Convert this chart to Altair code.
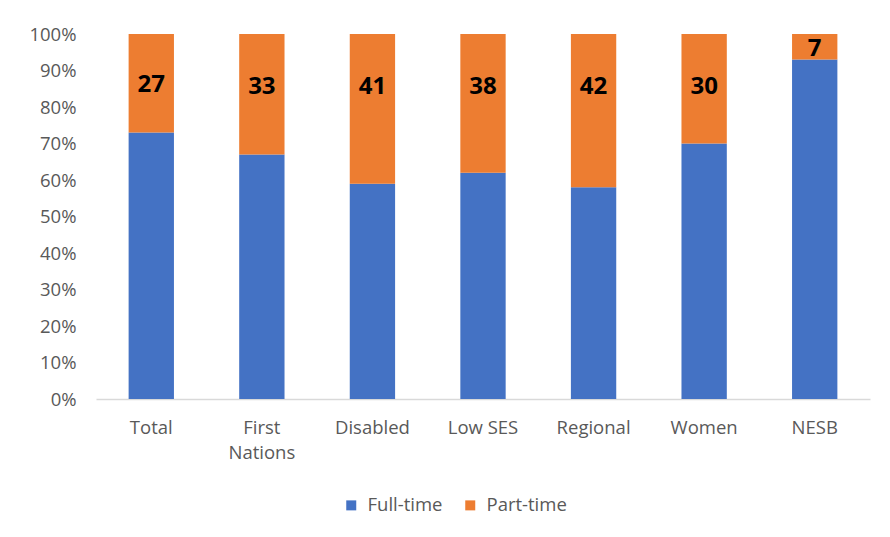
import altair as alt
import pandas as pd

categories = ["Total", "First Nations", "Disabled", "Low SES", "Regional", "Women", "NESB"]
part_time = [27, 33, 41, 38, 42, 30, 7]
full_time = [73, 67, 59, 62, 58, 70, 93]
series = ["Full-time", "Part-time"]
colors = ["#4472C4", "#ED7D31"]
y_ticks = [0, 0.1, 0.2, 0.3, 0.4, 0.5, 0.6, 0.7, 0.8, 0.9, 1.0]

rows = []
for c, f, p in zip(categories, full_time, part_time):
    rows.append({"cat": c, "series": "Full-time", "val": f / 100, "ord": 0})
    rows.append({"cat": c, "series": "Part-time", "val": p / 100, "ord": 1})
df = pd.DataFrame(rows)
lab_df = pd.DataFrame({"cat": categories, "pt": part_time})

FONT = "Open Sans"
FS = 18.5

x_axis = alt.Axis(labelAngle=0, labelFontSize=FS, labelColor="#595959", labelFont=FONT,
                  labelPadding=19, labelLineHeight=25, ticks=False,
                  domainColor="#D9D9D9", domainWidth=1.5,
                  labelExpr="datum.label == 'First Nations' ? ['First', 'Nations'] : datum.label")
x_scale = alt.Scale(paddingInner=0.59, paddingOuter=0.295)
y_axis = alt.Axis(format=".0%", values=y_ticks, grid=False, labelOverlap=False,
                  domain=False, ticks=False, labelFontSize=FS, labelColor="#595959",
                  labelFont=FONT, labelPadding=20)
y_scale = alt.Scale(domain=[0, 1], nice=False)

bars = alt.Chart(df).mark_bar().encode(
    x=alt.X("cat:N", sort=categories, title=None, scale=x_scale, axis=x_axis),
    y=alt.Y("val:Q", stack="zero", title=None, scale=y_scale, axis=y_axis),
    color=alt.Color("series:N", scale=alt.Scale(domain=series, range=colors),
                    legend=alt.Legend(title=None, orient="none", legendX=246, legendY=462,
                                      direction="horizontal", symbolType="square",
                                      symbolSize=100, labelFontSize=FS, labelColor="#595959",
                                      labelFont=FONT, columnPadding=18, symbolStrokeWidth=0,
                                      labelOffset=7)),
    order=alt.Order("ord:Q"),
)

labels = alt.Chart(lab_df).transform_calculate(
    ypos="1 - min(datum.pt / 2, 14) / 100"
).mark_text(fontSize=24, fontWeight="bold", color="black", font=FONT, dy=2).encode(
    x=alt.X("cat:N", sort=categories, title=None, scale=x_scale, axis=x_axis),
    y=alt.Y("ypos:Q", title=None, scale=y_scale, axis=y_axis),
    text=alt.Text("pt:Q"),
)

chart = alt.layer(bars, labels).properties(
    width=774, height=365,
    autosize=alt.AutoSizeParams(type="none"),
    padding={"left": 88, "top": 26, "right": 12, "bottom": 130},
).configure_view(stroke=None)

chart.save("out.html", embed_options={"renderer": "svg", "actions": False})
